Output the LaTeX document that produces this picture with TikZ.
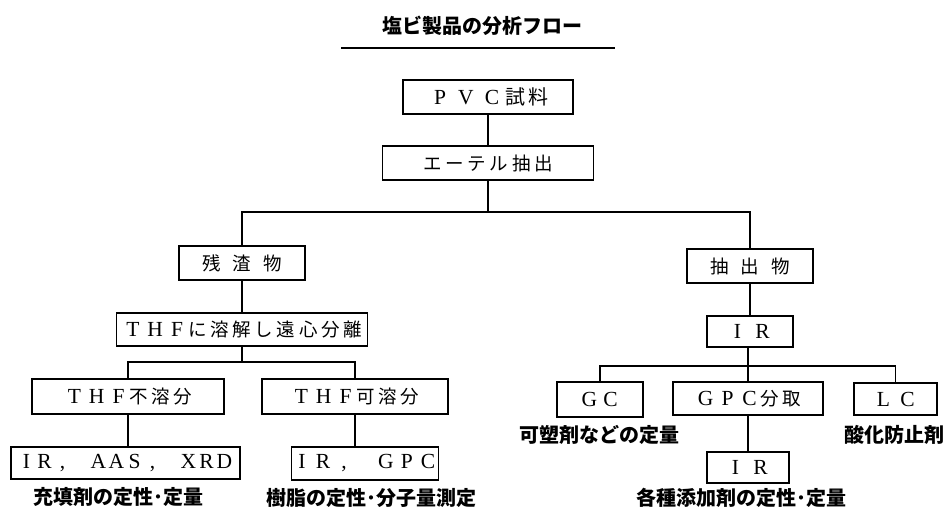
\documentclass[tikz,border=0pt]{standalone}
\usepackage{fontspec}
\newfontfamily\jp{Noto Sans CJK JP}
\newfontfamily\jpsp{Noto Sans CJK JP}[LetterSpace=20]
\newfontfamily\lat{Liberation Serif}
\newlength\fwlen
\setlength\fwlen{22pt}
\newcommand\fw[1]{\makebox[\fwlen][c]{\lat\fontsize{21.5}{22}\selectfont #1}}
\begin{document}
\begin{tikzpicture}[x=1pt,y=-1pt,
  box/.style={draw,line width=1.5pt,inner sep=0pt,minimum height=34pt,
    font=\jpsp\fontsize{18.5}{20}\selectfont},
  link/.style={line width=1.5pt},
  note/.style={inner sep=0pt,font=\jp\bfseries\fontsize{20}{22}\selectfont}]
\useasboundingbox (0,0) rectangle (948,512);
% title
\node[inner sep=0pt,font=\jp\bfseries\fontsize{20}{22}\selectfont] (title) at (482,26) {塩ビ製品の分析フロー};
\coordinate (ula) at (341,48);
\coordinate (ulb) at (615,48);
\draw[link] (ula) -- (ulb);
% boxes
\node[box,minimum width=170pt,font=\jpsp\fontsize{20}{22}\selectfont] (pvc) at (488,97) {\setlength\fwlen{26pt}\fw{P}\fw{V}\fw{C}試料};
\node[box,minimum width=211pt] (ether) at (488,163) {エーテル抽出};
\node[box,minimum width=126pt] (zan) at (242,263) {残\hspace{12pt}渣\hspace{12pt}物};
\node[box,minimum width=126pt] (chu) at (750,266) {抽\hspace{12pt}出\hspace{12pt}物};
\node[box,minimum width=251pt,minimum height=33pt] (thf) at (242,329.5) {\fw{T}\fw{H}\fw{F}に溶解し遠心分離};
\node[box,minimum width=192pt,minimum height=35pt] (ins) at (128,396.5) {\fw{T}\fw{H}\fw{F}不溶分};
\node[box,minimum width=186pt,minimum height=35pt] (sol) at (355,396.5) {\fw{T}\fw{H}\fw{F}可溶分};
\node[box,minimum width=229pt,minimum height=32pt] (iaa) at (125.5,463) {\setlength\fwlen{18pt}\fw{I}\fw{R}\fw{,}\fw{ }\fw{A}\fw{A}\fw{S}\fw{,}\fw{ }\fw{X}\fw{R}\fw{D}};
\node[box,minimum width=144pt,minimum height=33pt] (igp) at (365,463.5) {\setlength\fwlen{21pt}\fw{I}\fw{R}\fw{,}\fw{ }\fw{G}\fw{P}\fw{C}};
\node[box,minimum width=86pt,minimum height=31pt] (ir1) at (750,331.5) {\setlength\fwlen{25pt}\fw{I}\fw{R}};
\node[box,minimum width=86pt,minimum height=35pt] (gc) at (600,399.5) {\setlength\fwlen{21pt}\fw{G}\fw{C}};
\node[box,minimum width=150pt,minimum height=33pt] (gpc) at (748,398.5) {\fw{G}\fw{P}\fw{C}分取};
\node[box,minimum width=83pt,minimum height=32pt] (lc) at (895.5,399) {\setlength\fwlen{24pt}\fw{L}\fw{C}};
\node[box,minimum width=82pt,minimum height=31pt] (ir2) at (748,467.5) {\setlength\fwlen{25pt}\fw{I}\fw{R}};
% notes
\node[note] (n1) at (118,497) {充填剤の定性･定量};
\node[note] (n2) at (371,498) {樹脂の定性･分子量測定};
\node[note] (n3) at (599,435) {可塑剤などの定量};
\node[note] (n4) at (894,435) {酸化防止剤};
\node[note] (n5) at (741,498) {各種添加剤の定性･定量};
% junctions
\coordinate (j1) at (488,212);
\coordinate (j2) at (242,362);
\coordinate (j3) at (748,366);
% connectors
\draw[link] (pvc) -- (ether);
\draw[link] (ether) -- (j1);
\draw[link] (zan.north) |- (j1) -| (chu.north);
\draw[link] (zan) -- (thf);
\draw[link] (thf) -- (j2);
\draw[link] (ins.north) |- (j2) -| (sol.north);
\draw[link] (ins.south) -- (ins.south |- iaa.north);
\draw[link] (sol.south) -- (sol.south |- igp.north);
\draw[link] (chu) -- (chu |- ir1.north);
\draw[link] (j3 |- ir1.south) -- (j3);
\draw[link] (gc.north) |- (j3) -| (lc.north);
\draw[link] (j3) -- (gpc);
\draw[link] (gpc) -- (ir2);
\end{tikzpicture}
\end{document}
